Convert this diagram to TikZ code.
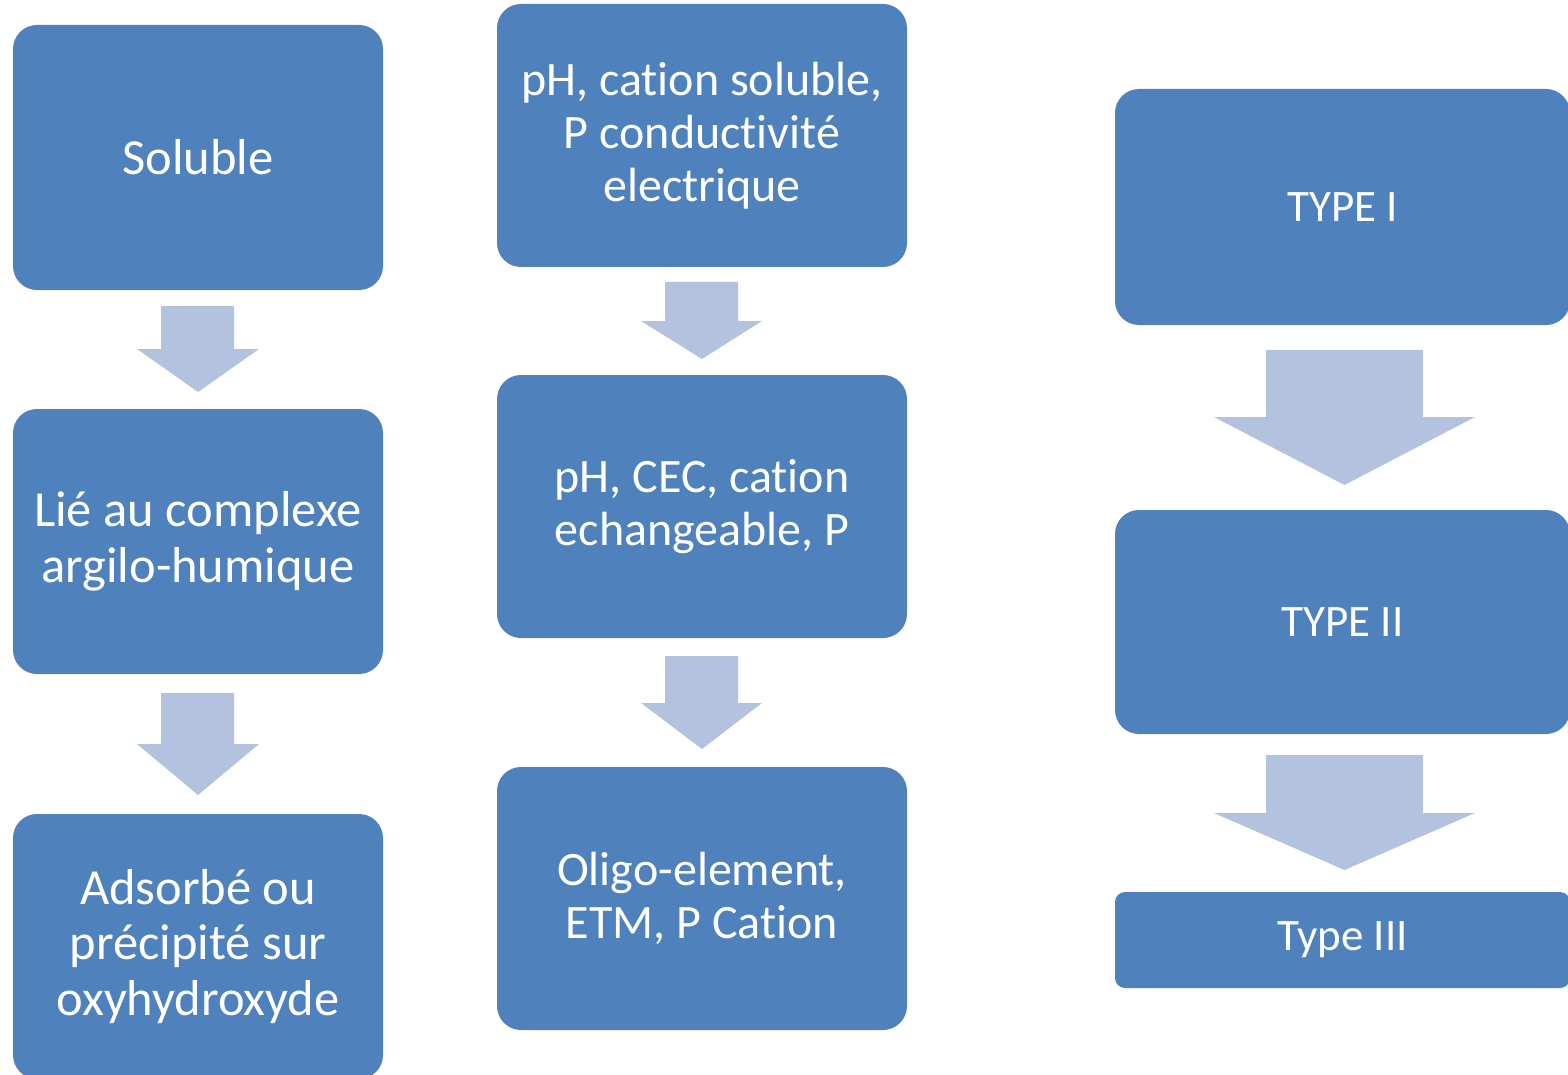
\documentclass[tikz,border=0pt]{standalone}
\usepackage{fontspec}
\setmainfont[Ligatures=NoCommon]{Carlito}
\definecolor{boxblue}{HTML}{4F81BD}
\definecolor{arrowblue}{HTML}{B3C2DE}
\tikzset{
  stepbox/.style={fill=boxblue, draw=none, rounded corners=24pt, inner sep=0pt,
    text=white, align=center},
  leftbox/.style={stepbox, minimum width=370pt, minimum height=265pt,
    font=\fontsize{50.5}{55.5}\selectfont},
  midbox/.style={stepbox, minimum width=410pt, minimum height=263pt,
    font=\fontsize{48}{53}\selectfont},
  rightbox/.style={stepbox, minimum width=455pt, font=\fontsize{45}{54}\selectfont},
  flowarrow/.style={fill=arrowblue, draw=none},
}
\begin{document}
\begin{tikzpicture}[x=1pt, y=-1pt]
\useasboundingbox (0,0) rectangle (1568,1075);
\clip (0,0) rectangle (1568,1075);
% left column
\node[leftbox] (s1) at (198,157.5) {Soluble};
\node[leftbox] (s2) at (198,541.5) {Lié au complexe\\argilo-humique};
\node[leftbox] (s3) at (198,946.5) {Adsorbé ou\\précipité sur\\oxyhydroxyde};
% middle column
\node[midbox] (m1) at (702,135.5) {pH, cation soluble,\\P conductivité\\electrique};
\node[midbox] (m2) at (702,506.5) {pH, CEC, cation\\echangeable, P};
\node[midbox] (m3) at (702,898.5) {Oligo-element,\\ETM, P Cation};
% right column
\node[rightbox, minimum height=236pt] (t1) at (1342.5,207) {TYPE I};
\node[rightbox, minimum height=224pt] (t2) at (1342.5,622) {TYPE II};
\node[rightbox, rounded corners=10pt, minimum height=96pt] (t3) at (1342.5,940) {Type III};
% block arrows between the boxes
\fill[flowarrow] (161,306) -- (234,306) -- (234,349) -- (259,349) -- (198,392) -- (137,349) -- (161,349) -- cycle;
\fill[flowarrow] (161,693) -- (234,693) -- (234,744) -- (259,744) -- (198,795) -- (137,744) -- (161,744) -- cycle;
\fill[flowarrow] (665,282) -- (738,282) -- (738,321) -- (762,321) -- (702,359) -- (641,321) -- (665,321) -- cycle;
\fill[flowarrow] (665,656) -- (738,656) -- (738,703) -- (762,703) -- (702,749) -- (641,703) -- (665,703) -- cycle;
\fill[flowarrow] (1266,350) -- (1423,350) -- (1423,417) -- (1475,417) -- (1344.5,485) -- (1214,417) -- (1266,417) -- cycle;
\fill[flowarrow] (1266,755) -- (1423,755) -- (1423,813) -- (1475,813) -- (1344.5,870) -- (1214,813) -- (1266,813) -- cycle;
\end{tikzpicture}
\end{document}
